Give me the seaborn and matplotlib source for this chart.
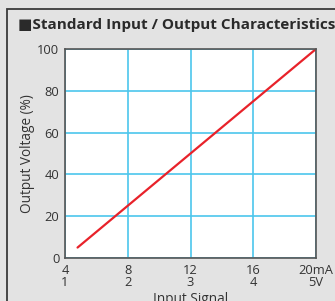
import numpy as np
import pandas as pd
import matplotlib
matplotlib.use('Agg')
import matplotlib.pyplot as plt
import seaborn as sns
from matplotlib.patches import Rectangle

# data
input_ma = [4.8, 20]
output_pct = [5, 100]
x_ticks = [4, 8, 12, 16, 20]
x_labels = ['4\n1', '8\n2', '12\n3', '16\n4', '20mA\n5V']
y_ticks = [0, 20, 40, 60, 80, 100]

sns.set_theme(style='white')
plt.rcParams['font.family'] = ['Open Sans', 'DejaVu Sans']

fig = plt.figure(figsize=(3.35, 3.01), dpi=100, facecolor='#e3e3e3')
# outer frame of the panel
fig.patches.append(Rectangle((7 / 335, -0.1), 1.2, 1 - 9 / 301 + 0.1, transform=fig.transFigure,
                             fill=False, edgecolor='#3a3a3a', linewidth=1.3))

ax = fig.add_axes([65 / 335, 1 - 258 / 301, (316 - 65) / 335, (258 - 49) / 301])
ax.set_facecolor('white')

df = pd.DataFrame({'input': input_ma, 'output': output_pct})
sns.lineplot(data=df, x='input', y='output', ax=ax, color='#e8222a', linewidth=1.6)

ax.set_xlim(4, 20)
ax.set_ylim(0, 100)
ax.set_xticks(x_ticks)
ax.set_xticklabels(x_labels, fontsize=9.3, color='#333333', linespacing=0.95)
ax.set_yticks(y_ticks)
ax.set_yticklabels([str(v) for v in y_ticks], fontsize=9.3, color='#333333')
ax.tick_params(length=0, pad=4)
ax.grid(True, color='#4cc6ec', linewidth=1.2)
for s in ax.spines.values():
    s.set_color('#555555')
    s.set_linewidth(1.2)
ax.set_xlabel('Input Signal', fontsize=9.8, color='#333333', labelpad=2)
ax.set_ylabel('Output Voltage (%)', fontsize=9.8, color='#333333', labelpad=2)

fig.text(18 / 335, 1 - 25 / 301, '■Standard Input / Output Characteristics', fontsize=11,
         fontweight='bold', color='#2a2a2a', va='center', ha='left')

fig.savefig('out.png', dpi=100, facecolor=fig.get_facecolor())
